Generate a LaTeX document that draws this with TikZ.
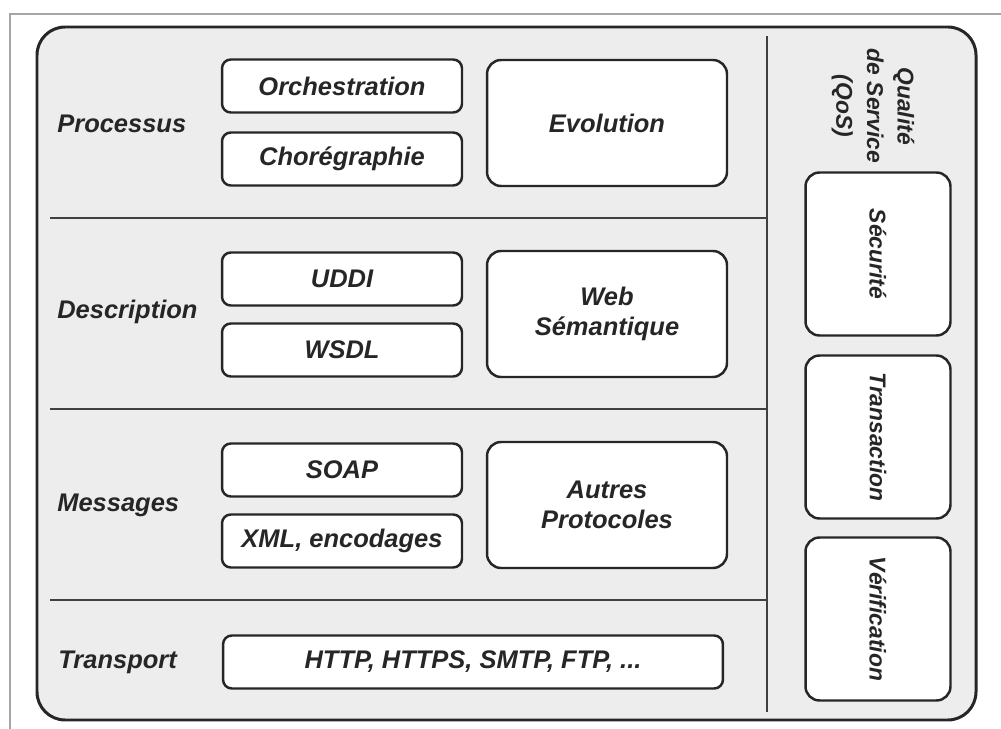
\documentclass[tikz,border=0pt]{standalone}
\usepackage{fontspec}
\setmainfont{Liberation Sans}
\begin{document}
\begin{tikzpicture}[x=0.02cm,y=-0.02cm,
  txt/.style={font=\bfseries\itshape\fontsize{14.5}{17}\selectfont,text=black!85},
  qtxt/.style={font=\bfseries\itshape\fontsize{13}{17.5}\selectfont,text=black!85},
  small/.style={txt,draw=black!85,line width=1.4pt,fill=white,rounded corners=5pt,minimum width=4.8cm,minimum height=1.06cm,inner sep=0pt},
  big/.style={txt,draw=black!85,line width=1.4pt,fill=white,rounded corners=8pt,minimum width=4.8cm,minimum height=2.52cm,align=center,inner sep=0pt},
  qos/.style={qtxt,draw=black!85,line width=1.4pt,fill=white,rounded corners=8pt,rotate=-90,minimum width=3.26cm,minimum height=2.9cm,inner sep=0pt},
  layer/.style={txt,anchor=west,inner sep=0pt},
  sep/.style={draw=black!75,line width=1.4pt}]
\useasboundingbox (0,0) rectangle (1001,729);
% frame of the screenshot
\draw[black!35,line width=1.2pt] (1001,14) -- (10,14) -- (10,729);
% main panel
\draw[black!85,line width=1.7pt,fill=black!7,rounded corners=16pt] (37,27) rectangle (976,720);
\draw[sep] (767,36) -- (767,712);
\draw[sep] (50,218) -- (767,218);
\draw[sep] (50,409) -- (767,409);
\draw[sep] (50,600) -- (767,600);
% layers
\node[layer] (P) at (57,124) {Processus};
\node[layer] (D) at (57,312) {Description};
\node[layer] (M) at (57,505) {Messages};
\node[layer] (T) at (58,662) {Transport};
% boxes
\node[small] (orch) at (342,86) {Orchestration};
\node[small] (chor) at (342,159) {Chorégraphie};
\node[small] (uddi) at (342,279) {UDDI};
\node[small] (wsdl) at (342,350) {WSDL};
\node[small] (soap) at (342,470) {SOAP};
\node[small] (xml) at (342,541) {XML, encodages};
\node[big] (evol) at (607,123) {Evolution};
\node[big] (web) at (607,314) {Web\\Sémantique};
\node[big] (autr) at (607,505) {Autres\\Protocoles};
\node[small,minimum width=10cm] (http) at (473,662) {HTTP, HTTPS, SMTP, FTP, ...};
% qualite de service
\node[qtxt,rotate=-90,align=center] (Q) at (873,106) {Qualité\\de Service\\(QoS)};
\node[qos] (secu) at (878,254) {Sécurité};
\node[qos] (tran) at (878,437) {Transaction};
\node[qos] (veri) at (878,619) {Vérification};
\end{tikzpicture}
\end{document}
